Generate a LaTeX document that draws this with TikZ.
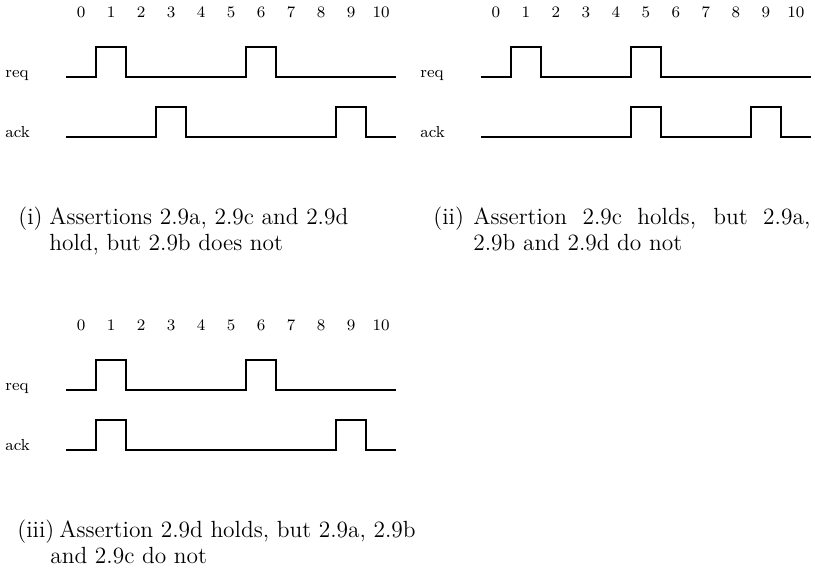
\documentclass[tikz,border=0pt]{standalone}
\usepackage{tikz}
\begin{document}
\begin{tikzpicture}[x=15pt, y=15pt,
	wave/.style={line width=0.7pt},
	tick/.style={font=\footnotesize, anchor=base, inner sep=0pt},
	sig/.style={font=\footnotesize, anchor=base west, inner sep=0pt},
	capt/.style={font=\fontsize{11.7}{13}\selectfont, anchor=base west, inner sep=0pt}]
	\useasboundingbox (0,0) rectangle (27.1667,-19);
	% diag 1
	\begin{scope}[shift={(2.7,-2.5667)}]
	\foreach \t in {0,...,10} \node[tick] (ta\t) at (\t,2) {\t};
	\node[sig] (reqa) at (-2.533,-0.03) {req};
	\node[sig] (acka) at (-2.533,-2.03) {ack};
	\draw[wave] (-.5,0) -- (.5,0) -- (.5,1) -- (1.5,1) -- (1.5,0) -- (5.5,0) -- (5.5,1) -- (6.5,1) -- (6.5,0) -- (10.5,0);
	\draw[wave] (-.5,-2) -- (2.5,-2) -- (2.5,-1) -- (3.5,-1) -- (3.5,-2) -- (8.5,-2) -- (8.5,-1) -- (9.5,-1) -- (9.5,-2) -- (10.5,-2);
	\node[capt] (la) at (-2.1,-4.92) {(i)};
	\node[capt] (ca) at (-1.067,-4.92) {\parbox[t]{200pt}{\raggedright Assertions 2.9a, 2.9c and 2.9d\\ hold, but 2.9b does not}};
	\end{scope}
	% diag 2
	\begin{scope}[shift={(16.533,-2.5667)}]
	\foreach \t in {0,...,10} \node[tick] (tb\t) at (\t,2) {\t};
	\node[sig] (reqb) at (-2.533,-0.03) {req};
	\node[sig] (ackb) at (-2.533,-2.03) {ack};
	\draw[wave] (-.5,0) -- (.5,0) -- (.5,1) -- (1.5,1) -- (1.5,0) -- (4.5,0) -- (4.5,1) -- (5.5,1) -- (5.5,0) -- (10.5,0);
	\draw[wave] (-.5,-2) -- (4.5,-2) -- (4.5,-1) -- (5.5,-1) -- (5.5,-2) -- (8.5,-2) -- (8.5,-1) -- (9.5,-1) -- (9.5,-2) -- (10.5,-2);
	\node[capt] (lb) at (-2.1,-4.92) {(ii)};
	\node[capt] (cb) at (-0.767,-4.92) {\parbox[t]{168.5pt}{Assertion 2.9c holds, but 2.9a, 2.9b and 2.9d do not}};
	\end{scope}
	% diag 3
	\begin{scope}[shift={(2.7,-13)}]
	\foreach \t in {0,...,10} \node[tick] (tc\t) at (\t,2) {\t};
	\node[sig] (reqc) at (-2.533,-0.03) {req};
	\node[sig] (ackc) at (-2.533,-2.03) {ack};
	\draw[wave] (-.5,0) -- (.5,0) -- (.5,1) -- (1.5,1) -- (1.5,0) -- (5.5,0) -- (5.5,1) -- (6.5,1) -- (6.5,0) -- (10.5,0);
	\draw[wave] (-.5,-2) -- (.5,-2) -- (.5,-1) -- (1.5,-1) -- (1.5,-2) -- (8.5,-2) -- (8.5,-1) -- (9.5,-1) -- (9.5,-2) -- (10.5,-2);
	\node[capt] (lc) at (-2.133,-4.92) {(iii)};
	\node[capt] (cc) at (-1.033,-4.92) {\parbox[t]{200pt}{\raggedright\hspace*{4.5pt}Assertion 2.9d holds, but 2.9a, 2.9b\\ and 2.9c do not}};
	\end{scope}
\end{tikzpicture}
\end{document}
